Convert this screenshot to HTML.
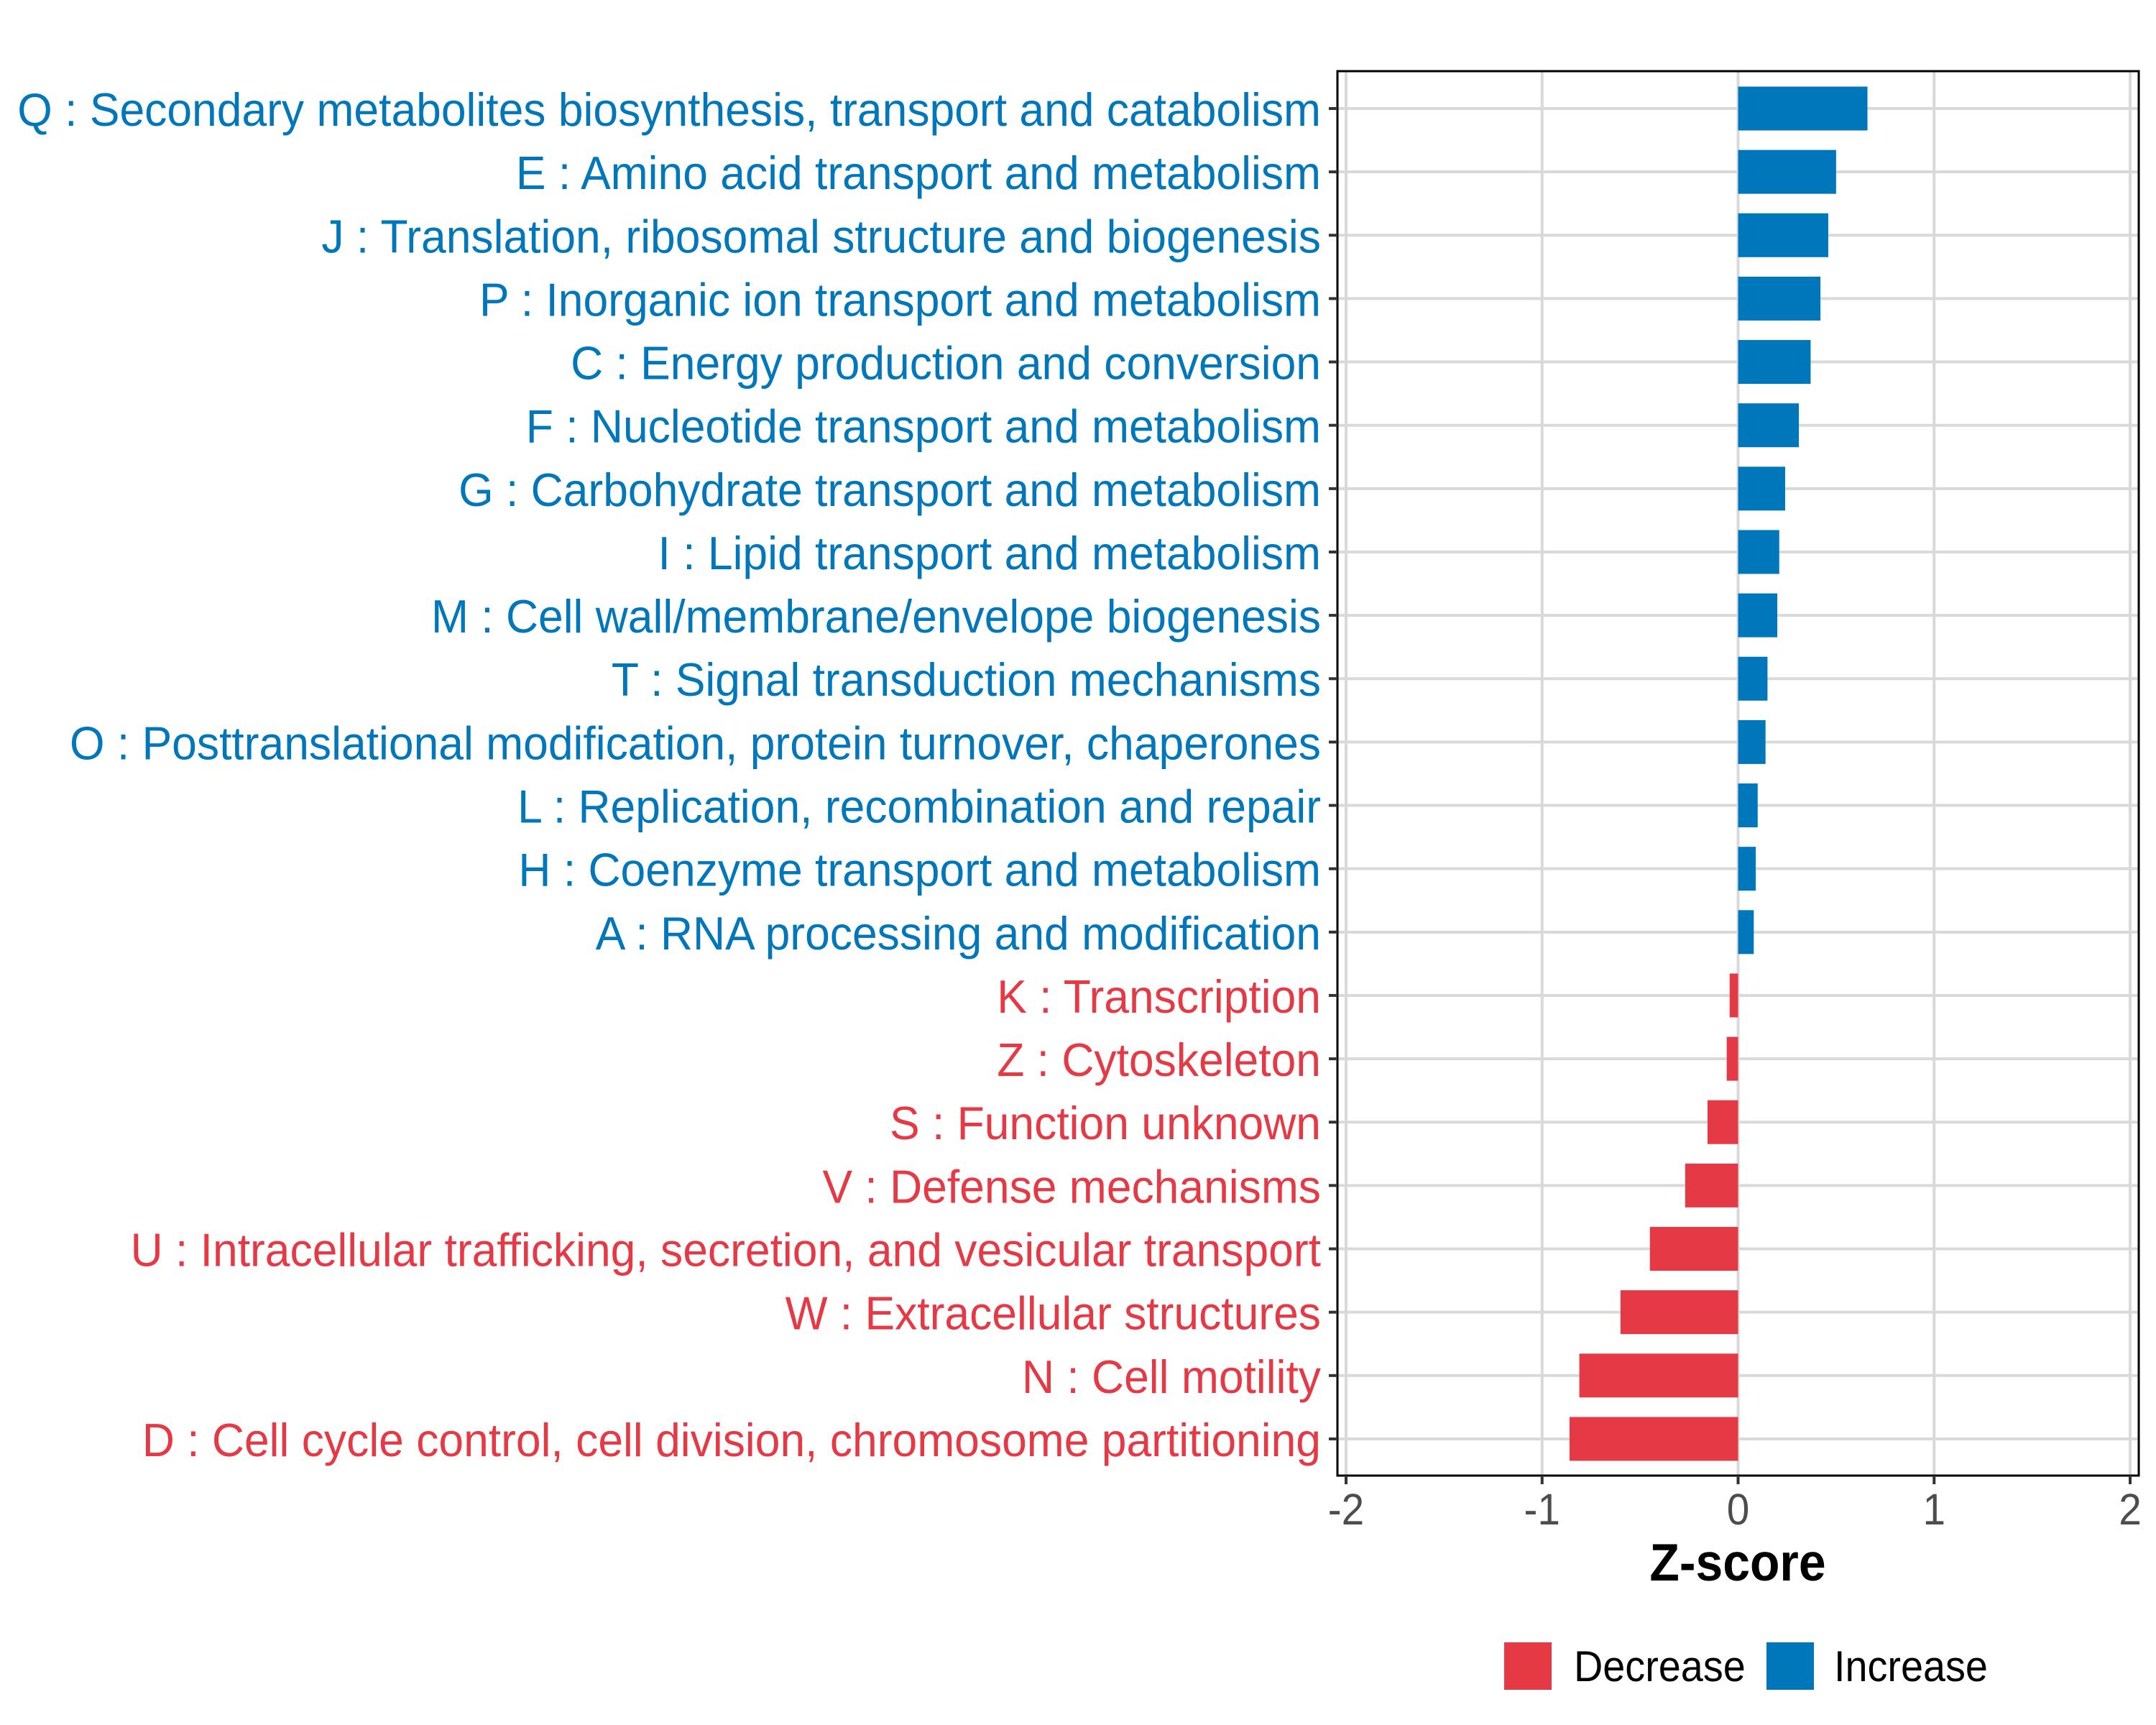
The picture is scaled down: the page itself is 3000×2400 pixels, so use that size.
<!DOCTYPE html>
<html><head><meta charset="utf-8"><style>
html,body{margin:0;padding:0;background:#fff;}
svg{display:block;}
text{font-family:"Liberation Sans",Arial,sans-serif;}
</style></head><body>
<svg id="chart" width="3000" height="2400" viewBox="0 0 3000 2400" xmlns="http://www.w3.org/2000/svg">
<rect x="0" y="0" width="3000" height="2400" fill="#fff"/>
<g id="grid"></g>
<g id="bars"></g>
<rect x="1861" y="99" width="1115" height="1954" fill="none" stroke="#000" stroke-width="3"/>
<g id="ylabels"></g>
<g id="xaxis"></g>
<text x="2418" y="2199" font-size="73" font-weight="bold" text-anchor="middle" fill="#000" transform="translate(2418,0) scale(0.93,1) translate(-2418,0)">Z-score</text>
<g>
<rect x="2093" y="2285" width="66" height="66" fill="#E63946"/>
<text x="2190" y="2339" font-size="60" fill="#000" transform="translate(2190,0) scale(0.93,1) translate(-2190,0)">Decrease</text>
<rect x="2458" y="2285" width="66" height="66" fill="#0077BB"/>
<text x="2552" y="2339" font-size="60" fill="#000" transform="translate(2552,0) scale(0.93,1) translate(-2552,0)">Increase</text>
</g>
</svg>
<script>
const categories = [
"Q : Secondary metabolites biosynthesis, transport and catabolism",
"E : Amino acid transport and metabolism",
"J : Translation, ribosomal structure and biogenesis",
"P : Inorganic ion transport and metabolism",
"C : Energy production and conversion",
"F : Nucleotide transport and metabolism",
"G : Carbohydrate transport and metabolism",
"I : Lipid transport and metabolism",
"M : Cell wall/membrane/envelope biogenesis",
"T : Signal transduction mechanisms",
"O : Posttranslational modification, protein turnover, chaperones",
"L : Replication, recombination and repair",
"H : Coenzyme transport and metabolism",
"A : RNA processing and modification",
"K : Transcription",
"Z : Cytoskeleton",
"S : Function unknown",
"V : Defense mechanisms",
"U : Intracellular trafficking, secretion, and vesicular transport",
"W : Extracellular structures",
"N : Cell motility",
"D : Cell cycle control, cell division, chromosome partitioning"];
const zscores = [0.66,0.50,0.46,0.42,0.37,0.31,0.24,0.21,0.20,0.15,0.14,0.10,0.09,0.08,-0.043,-0.058,-0.156,-0.27,-0.45,-0.60,-0.81,-0.86];
const xTicks = [-2,-1,0,1,2];
const xTickLabels = ["-2","-1","0","1","2"];

const NS="http://www.w3.org/2000/svg";
const X0=2418.5, UNIT=272.75;
function xScale(v){return X0+v*UNIT;}
const ROW0=151, STEP=88.14;
function yScale(i){return ROW0+i*STEP;}
const BLUE="#0077BB", RED="#E63946";
function mk(tag,attrs,parent){const e=document.createElementNS(NS,tag);for(const k in attrs)e.setAttribute(k,attrs[k]);parent.appendChild(e);return e;}
const grid=document.getElementById('grid'), bars=document.getElementById('bars'), yl=document.getElementById('ylabels'), xa=document.getElementById('xaxis');

xTicks.forEach((t,i)=>{
  const g=mk('line',{x1:xScale(t),x2:xScale(t),y1:99,y2:2053,stroke:'#D9D9D9','stroke-width':4},grid);
  
  
  const tk=mk('line',{x1:xScale(t),x2:xScale(t),y1:2053,y2:2065,stroke:'#333','stroke-width':4},xa);
  
  
  const tx=mk('text',{x:xScale(t),y:2121,'font-size':61,'text-anchor':'middle',fill:'#4D4D4D',transform:`translate(${xScale(t)},0) scale(0.93,1) translate(${-xScale(t)},0)`},xa);
  tx.textContent=xTickLabels[i];
  
  
});
categories.forEach((c,i)=>{
  const y=yScale(i);
  const g=mk('line',{x1:1861,x2:2976,y1:y,y2:y,stroke:'#D9D9D9','stroke-width':4},grid);
  
  
  const v=zscores[i];
  const col=v>=0?BLUE:RED;
  const x1=Math.min(xScale(0),xScale(v)), w=Math.abs(xScale(v)-xScale(0));
  const b=mk('rect',{x:x1,y:y-30.5,width:w,height:61,fill:col},bars);
  
  
  const tk=mk('line',{x1:1849,x2:1861,y1:y,y2:y,stroke:'#333','stroke-width':4},yl);
  
  
  const tx=mk('text',{x:1838,y:y+24,'font-size':65,'text-anchor':'end',fill:col,transform:`translate(1838,0) scale(0.96,1) translate(-1838,0)`},yl);
  tx.textContent=c;
  
  
});
</script>
</body></html>
